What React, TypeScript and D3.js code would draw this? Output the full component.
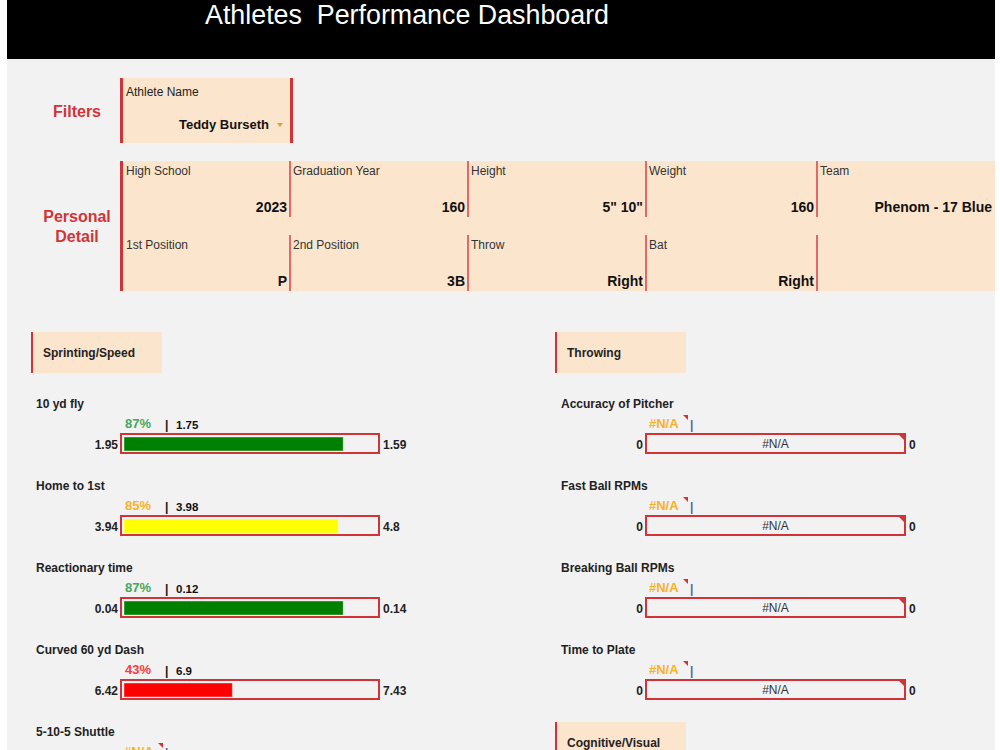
import React from "react";
import * as d3 from "d3";

// athlete & profile
const athleteName = "Teddy Burseth";
const detailLabelsTop = ["High School", "Graduation Year", "Height", "Weight", "Team"];
const detailValuesTop = ["2023", "160", "5\" 10\"", "160", "Phenom - 17 Blue"];
const detailLabelsBottom = ["1st Position", "2nd Position", "Throw", "Bat", ""];
const detailValuesBottom = ["P", "3B", "Right", "Right", ""];
const detailCols = [123, 290, 468, 646, 817, 995];

// sprinting / speed metrics
const sprintNames = ["10 yd fly", "Home to 1st", "Reactionary time", "Curved 60 yd Dash", "5-10-5 Shuttle"];
const sprintPct: (number | null)[] = [87, 85, 87, 43, null];
const sprintScore: (string | null)[] = ["1.75", "3.98", "0.12", "6.9", null];
const sprintMin = ["1.95", "3.94", "0.04", "6.42", "0"];
const sprintMax = ["1.59", "4.8", "0.14", "7.43", "0"];

// throwing metrics
const throwNames = ["Accuracy of Pitcher", "Fast Ball RPMs", "Breaking Ball RPMs", "Time to Plate"];
const throwPct: (number | null)[] = [null, null, null, null];
const throwScore: (string | null)[] = [null, null, null, null];
const throwMin = ["0", "0", "0", "0"];
const throwMax = ["0", "0", "0", "0"];

const RED = "#d13438";
const PEACH = "#fce5cd";
const FONT = "'Liberation Sans', Arial, sans-serif";

const pctText = d3.scaleThreshold<number, string>().domain([50, 86]).range(["#ff3b3b", "#f9b127", "#43a85e"]);
const pctFill = d3.scaleThreshold<number, string>().domain([50, 86]).range(["#ff0000", "#ffff00", "#008000"]);
const rowY = d3.scaleLinear().domain([0, 1]).range([404, 486]);

type MetricProps = {
  names: string[];
  pct: (number | null)[];
  score: (string | null)[];
  min: string[];
  max: string[];
  labelX: number;
  boxX: number;
  boxW: number;
};

function MetricList({ names, pct, score, min, max, labelX, boxX, boxW }: MetricProps) {
  const inner = d3.scaleLinear().domain([0, 100]).range([0, boxW - 8]);
  return (
    <g fontFamily={FONT}>
      {names.map((name, i) => {
        const y = rowY(i);
        const p = pct[i];
        const top = y + 30;
        return (
          <g key={name}>
            <text x={labelX} y={y + 4} fontSize={12} fontWeight="bold" fill="#222">{name}</text>
            {p !== null ? (
              <>
                <text x={boxX + 5} y={y + 24} fontSize={13} fontWeight="bold" fill={pctText(p)}>{p}%</text>
                <text x={boxX + 45} y={y + 25} fontSize={12} fontWeight="bold" fill="#111">|</text>
                <text x={boxX + 56} y={y + 25} fontSize={11.5} fontWeight="bold" fill="#111">{score[i]}</text>
              </>
            ) : (
              <>
                <text x={boxX + 4} y={y + 24} fontSize={13} fontWeight="bold" fill="#f9b127">#N/A</text>
                <polygon points={`${boxX + 38},${y + 11} ${boxX + 43},${y + 11} ${boxX + 43},${y + 16}`} fill={RED} />
                <text x={boxX + 45} y={y + 25} fontSize={12} fontWeight="bold" fill="#5b5ea6">|</text>
              </>
            )}
            <rect x={boxX + 1} y={top} width={boxW - 2} height={19} fill="#f2f2f2" stroke={RED} strokeWidth={2} />
            {p !== null ? (
              <rect x={boxX + 4} y={top + 3} width={inner(p)} height={14} fill={pctFill(p)} stroke="#ffffff" strokeOpacity={0.4} strokeWidth={1} />
            ) : (
              <>
                <text x={boxX + boxW / 2} y={top + 14} fontSize={12} textAnchor="middle" fill="#333">#N/A</text>
                <polygon points={`${boxX + boxW - 7},${top + 1} ${boxX + boxW - 2},${top + 1} ${boxX + boxW - 2},${top + 6}`} fill={RED} />
              </>
            )}
            <text x={boxX - 2} y={top + 15} fontSize={12} fontWeight="bold" textAnchor="end" fill="#222">{min[i]}</text>
            <text x={boxX + boxW + 3} y={top + 15} fontSize={12} fontWeight="bold" fill="#222">{max[i]}</text>
          </g>
        );
      })}
    </g>
  );
}

function SectionHeader({ x, y, label }: { x: number; y: number; label: string }) {
  return (
    <g fontFamily={FONT}>
      <rect x={x} y={y} width={131} height={41} fill={PEACH} />
      <rect x={x} y={y} width={2} height={41} fill={RED} />
      <text x={x + 12} y={y + 25} fontSize={12} fontWeight="bold" fill="#222">{label}</text>
    </g>
  );
}

export default function App() {
  const rows = [
    { labels: detailLabelsTop, values: detailValuesTop, top: 161 },
    { labels: detailLabelsBottom, values: detailValuesBottom, top: 235 },
  ];
  return (
    <svg width={1000} height={750} style={{ position: "absolute", left: 0, top: 0 }} fontFamily={FONT}>
      <rect width={1000} height={750} fill="#ffffff" />
      <rect x={7} y={0} width={988} height={750} fill="#f2f2f2" />
      <rect x={7} y={0} width={988} height={59} fill="#000000" />
      <text x={205} y={24} fontSize={27} fill="#ffffff" textLength={404} lengthAdjust="spacingAndGlyphs" style={{ whiteSpace: "pre" }}>
        Athletes  Performance Dashboard
      </text>

      {/* filter */}
      <text x={77} y={117} fontSize={16} fontWeight="bold" fill={RED} textAnchor="middle">Filters</text>
      <rect x={120} y={78} width={173} height={65} fill={PEACH} />
      <rect x={120} y={78} width={3} height={65} fill={RED} />
      <rect x={290} y={78} width={3} height={65} fill={RED} />
      <text x={126} y={96} fontSize={12} fill="#222">Athlete Name</text>
      <text x={269} y={129} fontSize={13} fontWeight="bold" fill="#111" textAnchor="end">{athleteName}</text>
      <polygon points="277,123 283,123 280,127" fill="#e0a030" />

      {/* personal detail */}
      <text x={77} y={222} fontSize={16} fontWeight="bold" fill={RED} textAnchor="middle">Personal</text>
      <text x={77} y={242} fontSize={16} fontWeight="bold" fill={RED} textAnchor="middle">Detail</text>
      <rect x={120} y={161} width={875} height={130} fill={PEACH} />
      <rect x={120} y={161} width={3} height={130} fill={RED} />
      {rows.map((r) => (
        <g key={r.top}>
          {detailCols.slice(1, 5).map((cx) => (
            <rect key={cx} x={cx - 1} y={r.top} width={2} height={56} fill="#e06a6a" />
          ))}
          {r.labels.map((l, i) => (
            <text key={"l" + i} x={detailCols[i] + 3} y={r.top + 14} fontSize={12} fill="#333">{l}</text>
          ))}
          {r.values.map((v, i) => (
            <text key={"v" + i} x={detailCols[i + 1] - 3} y={r.top + 51} fontSize={14} fontWeight="bold" fill="#111" textAnchor="end">{v}</text>
          ))}
        </g>
      ))}

      <SectionHeader x={31} y={332} label="Sprinting/Speed" />
      <SectionHeader x={555} y={332} label="Throwing" />
      <SectionHeader x={555} y={722} label="Cognitive/Visual" />

      <MetricList names={sprintNames} pct={sprintPct} score={sprintScore} min={sprintMin} max={sprintMax} labelX={36} boxX={120} boxW={260} />
      <MetricList names={throwNames} pct={throwPct} score={throwScore} min={throwMin} max={throwMax} labelX={561} boxX={645} boxW={261} />
    </svg>
  );
}
